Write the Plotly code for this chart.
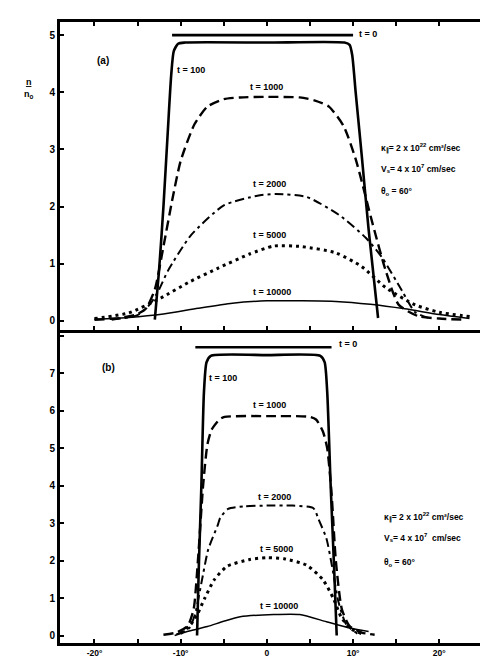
import plotly.graph_objects as go

# ---------------- data: panel (a) ----------------
a_t0_x = [-11.0, 10.0]
a_t0_y = [5.0, 5.0]
a_t100_x = [-13.0, -12.5, -12.0, -11.5, -11.1, -10.8, -10.3, -9.5, 0.0, 9.0, 9.6, 9.9, 10.3, 11.0, 11.8, 12.9]
a_t100_y = [0.02, 0.9, 2.0, 3.3, 4.3, 4.72, 4.85, 4.87, 4.87, 4.87, 4.83, 4.65, 4.0, 2.9, 1.6, 0.05]
a_t1000_x = [-20, -17, -15, -14, -13, -12, -11, -10, -8.4, -6.9, -5, -3.1, 0, 3.8, 5.5, 7.2, 8.9, 10.3, 12.3, 13.8, 15.3, 17.6, 20, 23]
a_t1000_y = [0.02, 0.05, 0.12, 0.22, 0.55, 1.3, 2.1, 2.8, 3.44, 3.75, 3.88, 3.91, 3.92, 3.91, 3.86, 3.75, 3.41, 2.83, 1.68, 0.87, 0.28, 0.08, 0.04, 0.02]
a_t2000_x = [-18, -15, -13.5, -12.5, -11.5, -8.8, -5, -1.1, 1, 4.6, 8.4, 11.5, 13.4, 15.7, 17.2, 19]
a_t2000_y = [0.02, 0.1, 0.3, 0.55, 0.87, 1.5, 2.02, 2.19, 2.22, 2.17, 1.85, 1.45, 1.1, 0.52, 0.15, 0.04]
a_t5000_x = [-20, -16, -12.3, -9, -5.7, -2, 0.8, 4, 8, 11, 13.8, 17.2, 20, 23.8]
a_t5000_y = [0.04, 0.14, 0.40, 0.68, 0.92, 1.17, 1.31, 1.30, 1.19, 0.95, 0.58, 0.28, 0.15, 0.07]
a_t10000_x = [-20, -16, -12, -8, -4, 0, 4, 8, 12, 16, 20, 23.5]
a_t10000_y = [0.03, 0.06, 0.12, 0.22, 0.31, 0.35, 0.35, 0.34, 0.29, 0.21, 0.11, 0.04]

# ---------------- data: panel (b) ----------------
b_t0_x = [-8.3, 7.5]
b_t0_y = [7.7, 7.7]
b_t100_x = [-8.1, -7.9, -7.6, -7.3, -7.0, -6.5, 0, 6.2, 6.7, 7.0, 7.4, 7.8, 8.1]
b_t100_y = [0.0, 1.8, 4.0, 6.5, 7.3, 7.47, 7.49, 7.47, 7.3, 6.5, 4.0, 1.8, 0.0]
b_t1000_x = [-12, -10.5, -9.2, -8.5, -8.0, -7.4, -6.9, -6.4, -5.5, -4.9, 0, 5.0, 5.7, 6.5, 7.0, 7.5, 8.0, 8.7, 9.6, 11, 12.5]
b_t1000_y = [0.02, 0.08, 0.25, 0.7, 2.0, 4.0, 5.1, 5.5, 5.77, 5.84, 5.86, 5.84, 5.77, 5.45, 5.0, 3.8, 2.0, 0.7, 0.25, 0.08, 0.02]
b_t2000_x = [-10.5, -9, -8.3, -7.6, -6.8, -5.7, -5.4, -4.5, -2.6, 0, 3, 5.4, 6.0, 6.9, 7.6, 8.3, 9.2, 10.5]
b_t2000_y = [0.03, 0.2, 0.6, 1.4, 2.3, 2.95, 3.15, 3.38, 3.45, 3.47, 3.47, 3.4, 3.1, 2.6, 1.8, 0.9, 0.3, 0.05]
b_t5000_x = [-10, -8.8, -8, -7.2, -6.1, -4.6, -2, 0, 2, 4.6, 6.5, 7.7, 8.6, 9.6, 11]
b_t5000_y = [0.05, 0.3, 0.6, 1.0, 1.49, 1.85, 2.03, 2.08, 2.05, 1.88, 1.49, 1.0, 0.5, 0.2, 0.05]
b_t10000_x = [-10.7, -9, -6.9, -5, -3.1, 0.8, 3.8, 6.9, 9.5, 11.8]
b_t10000_y = [0.0, 0.12, 0.24, 0.38, 0.5, 0.56, 0.56, 0.37, 0.21, 0.11]

x_tickvals = [-20, -15, -10, -5, 0, 5, 10, 15, 20, 25]
x_ticktext = ["-20°", "", "-10°", "", "0", "", "10°", "", "20°", ""]
a_ytickvals = [0, 1, 2, 3, 4, 5]
b_ytickvals = [0, 1, 2, 3, 4, 5, 6, 7, 8]
b_yticktext = ["0", "1", "2", "3", "4", "5", "6", "7", ""]

time_labels = ["t = 0", "t = 100", "t = 1000", "t = 2000", "t = 5000", "t = 10000"]
params_a = ["κ<sub>∥</sub>= 2 x 10<sup>22</sup> cm²/sec", "V<sub>s</sub>= 4 x 10<sup>7</sup> cm/sec", "θ<sub>o</sub> = 60°"]
params_b = ["κ<sub>∥</sub>= 2 x 10<sup>22</sup> cm²/sec", "V<sub>s</sub>= 4 x 10<sup>7</sup>  cm/sec", "θ<sub>o</sub> = 60°"]

# ---------------- styles ----------------
styles = [
    dict(color="black", width=2.6),
    dict(color="black", width=2.6),
    dict(color="black", width=2.4, dash="10px,5px"),
    dict(color="black", width=2.0, dash="9px,4px,3px,4px"),
    dict(color="black", width=3.0, dash="3px,4px"),
    dict(color="black", width=1.5),
]

fig = go.Figure()

panel_a = [(a_t0_x, a_t0_y), (a_t100_x, a_t100_y), (a_t1000_x, a_t1000_y),
           (a_t2000_x, a_t2000_y), (a_t5000_x, a_t5000_y), (a_t10000_x, a_t10000_y)]
panel_b = [(b_t0_x, b_t0_y), (b_t100_x, b_t100_y), (b_t1000_x, b_t1000_y),
           (b_t2000_x, b_t2000_y), (b_t5000_x, b_t5000_y), (b_t10000_x, b_t10000_y)]

for (xs, ys), st, name in zip(panel_a, styles, time_labels):
    fig.add_trace(go.Scatter(x=xs, y=ys, mode="lines", line=dict(shape="spline", smoothing=0.6, **st),
                             name=name, xaxis="x2", yaxis="y2", showlegend=False))
for (xs, ys), st, name in zip(panel_b, styles, time_labels):
    fig.add_trace(go.Scatter(x=xs, y=ys, mode="lines", line=dict(shape="spline", smoothing=0.6, **st),
                             name=name, xaxis="x", yaxis="y", showlegend=False))

B = 22
H = 657 - 14 - B
split = (657 - B - 322) / H
axis_common = dict(showline=True, linecolor="black", linewidth=3, mirror="ticks",
                   ticks="inside", ticklen=4, tickwidth=2, tickcolor="black",
                   showgrid=False, zeroline=False,
                   tickfont=dict(family="Liberation Sans", size=10, color="black", weight="bold"))

fig.update_layout(
    width=488, height=657,
    margin=dict(l=52, r=2, t=14, b=B),
    paper_bgcolor="white", plot_bgcolor="white",
    xaxis=dict(domain=[0, 1], range=[-24, 26], anchor="y", tickvals=x_tickvals, ticktext=x_ticktext,
               ticklabelstandoff=0, **axis_common),
    yaxis=dict(domain=[0, split + 3 / H], range=[-0.2, 8.24], anchor="x", tickvals=b_ytickvals,
               ticktext=b_yticktext, **axis_common),
    xaxis2=dict(domain=[0, 1], range=[-24, 26], anchor="y2", tickvals=x_tickvals,
                showticklabels=False, **axis_common),
    yaxis2=dict(domain=[split, 1], range=[-0.16, 5.23], anchor="x2", tickvals=a_ytickvals, **axis_common),
)
fig.update_xaxes(tickfont=dict(family="Liberation Sans", size=8.5, color="black", weight="bold"))

ann_font = dict(family="Liberation Sans", size=9, color="black")
side_font = dict(family="Liberation Sans", size=8.5, color="black")
ann = []
# panel (a) labels
ann.append(dict(x=-19.0, y=4.56, xref="x2", yref="y2", text="<b>(a)</b>", showarrow=False,
                font=dict(family="Liberation Sans", size=10, color="black")))
ann.append(dict(x=10.4, y=5.02, xref="x2", yref="y2", text="<b>" + time_labels[0] + "</b>", showarrow=False,
                xanchor="left", font=ann_font))
ann.append(dict(x=-10.7, y=4.39, xref="x2", yref="y2", text="<b>" + time_labels[1] + "</b>", showarrow=False,
                xanchor="left", font=ann_font))
for xv, yv, lbl in [(0.0, 4.1, time_labels[2]), (0.3, 2.4, time_labels[3]),
                    (0.3, 1.5, time_labels[4]), (0.6, 0.5, time_labels[5])]:
    ann.append(dict(x=xv, y=yv, xref="x2", yref="y2", text="<b>" + lbl + "</b>", showarrow=False, font=ann_font))
for yv, txt in zip([3.02, 2.67, 2.27], params_a):
    ann.append(dict(x=13.0, y=yv, xref="x2", yref="y2", text="<b>" + txt + "</b>", showarrow=False,
                    xanchor="left", font=side_font))

# panel (b) labels
ann.append(dict(x=-18.4, y=7.15, xref="x", yref="y", text="<b>(b)</b>", showarrow=False,
                font=dict(family="Liberation Sans", size=10, color="black")))
ann.append(dict(x=8.1, y=7.78, xref="x", yref="y", text="<b>" + time_labels[0] + "</b>", showarrow=False,
                xanchor="left", font=ann_font))
ann.append(dict(x=-6.9, y=6.88, xref="x", yref="y", text="<b>" + time_labels[1] + "</b>", showarrow=False,
                xanchor="left", font=ann_font))
for xv, yv, lbl in [(0.3, 6.15, time_labels[2]), (0.9, 3.7, time_labels[3]),
                    (1.1, 2.3, time_labels[4]), (1.4, 0.8, time_labels[5])]:
    ann.append(dict(x=xv, y=yv, xref="x", yref="y", text="<b>" + lbl + "</b>", showarrow=False, font=ann_font))
for yv, txt in zip([3.17, 2.61, 1.95], params_b):
    ann.append(dict(x=13.3, y=yv, xref="x", yref="y", text="<b>" + txt + "</b>", showarrow=False,
                    xanchor="left", font=side_font))

# y-axis title (fraction n / n0) and x variable symbol
ann.append(dict(x=-0.088, y=0.915, xref="paper", yref="paper", text="<b><u>n</u><br>n<sub>o</sub></b>",
                showarrow=False, font=dict(family="Liberation Sans", size=9, color="black")))
ann.append(dict(x=0.982, y=0.0, xref="paper", yref="paper", text="<b>φ</b>", showarrow=False,
                xanchor="center", yanchor="top", font=dict(family="Liberation Sans", size=9, color="black")))

fig.update_layout(annotations=ann)
fig.write_html("out.html")
